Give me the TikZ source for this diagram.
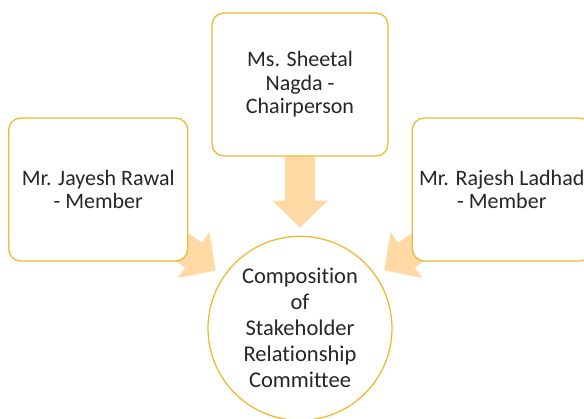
\documentclass[tikz,border=0pt]{standalone}
\usepackage{fontspec}
\setmainfont[Ligatures=NoCommon]{Carlito}
\usepackage{xcolor}
\usetikzlibrary{positioning, backgrounds, arrows.meta}

\definecolor{goldline}{HTML}{F0BA30}
\definecolor{arrowfill}{HTML}{FFD9A3}
\definecolor{textgray}{HTML}{262626}

\begin{document}
\begin{tikzpicture}[
    x=1pt, y=1pt,
    every node/.style={align=center, text=textgray},
    member/.style={rectangle, rounded corners=12pt, minimum width=179pt, minimum height=143pt, inner sep=0pt, draw=goldline, line width=1.3pt, fill=white, font=\fontsize{22}{23.5}\selectfont},
    committee/.style={circle, minimum size=184pt, inner sep=0pt, draw=goldline, line width=1.3pt, fill=white, font=\fontsize{22.5}{26}\selectfont},
    blockarrow/.style={draw=arrowfill, line width=30pt, -{Triangle[length=27pt, width=54pt, fill=arrowfill, color=arrowfill]}}
]
\useasboundingbox (0,0) rectangle (584,-418);

% Chairperson
\node (chair) [member, minimum width=176pt] at (300,-84.5) {Ms. Sheetal\\Nagda -\\Chairperson};

% Members
\node (jayesh) [member, left=23pt of chair, yshift=-105pt] {Mr. Jayesh Rawal\\- Member};
\node (rajesh) [member, right=23pt of chair, yshift=-105pt] {Mr. Rajesh Ladhad\\- Member};

% Committee
\node (comp) [committee, below=79pt of chair] {Composition\\of\\Stakeholder\\Relationship\\Committee};

% Arrows
\begin{scope}[on background layer]
\draw [blockarrow, shorten >=8pt] (chair.center) -- (comp);
\draw [blockarrow, shorten >=9.5pt] (jayesh.center) -- (comp);
\draw [blockarrow, shorten >=9.5pt] (rajesh.center) -- (comp);
\end{scope}

\end{tikzpicture}
\end{document}
